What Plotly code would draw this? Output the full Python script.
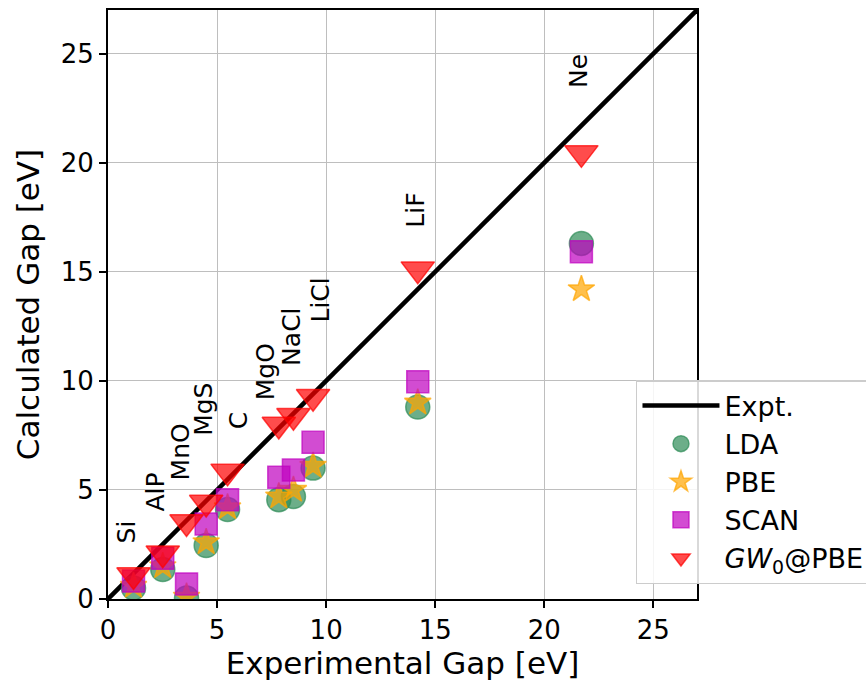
import plotly.graph_objects as go

materials = ["Si", "AlP", "MnO", "MgS", "C", "MgO", "NaCl", "LiCl", "LiF", "Ne"]
expt_gap = [1.17, 2.51, 3.6, 4.5, 5.48, 7.83, 8.5, 9.4, 14.2, 21.7]
lda_gap = [0.5, 1.35, 0.05, 2.45, 4.1, 4.55, 4.7, 6.0, 8.8, 16.3]
pbe_gap = [0.6, 1.5, 0.1, 2.6, 4.2, 4.7, 5.0, 6.1, 9.0, 14.2]
scan_gap = [0.82, 1.87, 0.69, 3.44, 4.55, 5.58, 5.91, 7.18, 9.96, 15.92]
gw0_gap = [1.1, 2.1, 3.53, 4.42, 5.85, 8.0, 8.4, 9.27, 15.12, 20.45]

# label anchors (data units): x centre, y bottom
label_x = [0.86, 2.2, 3.34, 4.37, 5.96, 7.23, 8.43, 9.72, 14.12, 21.54]
label_y = [2.47, 3.94, 5.36, 7.38, 7.67, 9.03, 10.59, 12.56, 16.91, 23.33]

axis_range = [0, 27]
ticks = [0, 5, 10, 15, 20, 25]

FONT = "DejaVu Sans"

fig = go.Figure()

fig.add_trace(go.Scatter(
    x=axis_range, y=axis_range, mode="lines", name="Expt.",
    line=dict(color="black", width=4.5), cliponaxis=True,
))

fig.add_trace(go.Scatter(
    x=expt_gap, y=lda_gap, mode="markers", name="LDA",
    marker=dict(symbol="circle", size=24, color="rgba(46,139,87,0.7)",
                line=dict(color="rgba(46,139,87,0.7)", width=1.5)),
))
fig.add_trace(go.Scatter(
    x=expt_gap, y=pbe_gap, mode="markers", name="PBE",
    marker=dict(symbol="star", size=20, color="rgba(255,165,0,0.7)",
                line=dict(color="rgba(255,165,0,0.7)", width=1.5)),
))
fig.add_trace(go.Scatter(
    x=expt_gap, y=scan_gap, mode="markers", name="SCAN",
    marker=dict(symbol="square", size=22, color="rgba(191,0,191,0.7)",
                line=dict(color="rgba(191,0,191,0.7)", width=1.5)),
))
fig.add_trace(go.Scatter(
    x=expt_gap, y=gw0_gap, mode="markers", name="<i>GW</i><sub>0</sub>@PBE",
    marker=dict(symbol="triangle-down", size=29, color="rgba(255,0,0,0.7)",
                line=dict(color="rgba(255,0,0,0.7)", width=1.5)),
))

for name, lx, ly in zip(materials, label_x, label_y):
    fig.add_annotation(
        x=lx, y=ly, xref="x", yref="y", text=name, showarrow=False,
        textangle=-90, xanchor="center", yanchor="bottom",
        font=dict(family=FONT, size=25, color="black"),
    )

axis_common = dict(
    range=axis_range, tickvals=ticks, showgrid=True,
    gridcolor="rgb(190,190,190)", gridwidth=1.3,
    showline=True, linecolor="black", linewidth=2, mirror=True,
    ticks="outside", ticklen=7, tickwidth=2, tickcolor="black",
    tickfont=dict(family=FONT, size=26, color="black"),
    zeroline=False,
)

fig.update_layout(
    width=866, height=691,
    margin=dict(l=108, r=169, t=10, b=92, autoexpand=False),
    paper_bgcolor="white", plot_bgcolor="white",
    font=dict(family=FONT, color="black"),
    xaxis=dict(**axis_common, title=dict(text="Experimental Gap [eV]",
               font=dict(family=FONT, size=31), standoff=8)),
    yaxis=dict(**axis_common, title=dict(text="Calculated Gap [eV]",
               font=dict(family=FONT, size=31), standoff=12)),
    showlegend=True,
    legend=dict(
        x=0.8964, y=0.3718, xanchor="left", yanchor="top",
        bgcolor="rgba(255,255,255,0.85)", bordercolor="rgb(204,204,204)",
        borderwidth=1.5, font=dict(family=FONT, size=27, color="black"),
        itemwidth=77, tracegroupgap=0,
    ),
)

fig.write_html("out.html")
